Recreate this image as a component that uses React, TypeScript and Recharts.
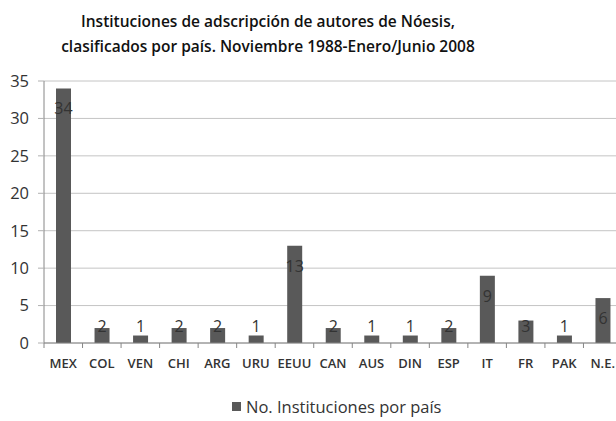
import React from "react";
import { Bar, BarChart, CartesianGrid, LabelList, Legend, XAxis, YAxis } from "recharts";

const paises: string[] = ["MEX", "COL", "VEN", "CHI", "ARG", "URU", "EEUU", "CAN", "AUS", "DIN", "ESP", "IT", "FR", "PAK", "N.E."];
const instituciones: number[] = [34, 2, 1, 2, 2, 1, 13, 2, 1, 1, 2, 9, 3, 1, 6];
const yTicks: number[] = [0, 5, 10, 15, 20, 25, 30, 35];

const data = paises.map((pais, i) => ({ pais, valor: instituciones[i] }));

const FONT = "'Open Sans', sans-serif";
const CHART_W = 622;
const Y_AXIS_W = 44;
const BAND = (CHART_W - Y_AXIS_W) / paises.length;

function PaisTick(props: any) {
  const { x, y, payload } = props;
  return (
    <g>
      <line x1={x - BAND / 2} y1={y} x2={x - BAND / 2} y2={y + 5} stroke="#868686" />
      <text x={x} y={y + 25} textAnchor="middle" fontSize={13} fontWeight={600} fill="#333" fontFamily={FONT}>
        {payload.value}
      </text>
    </g>
  );
}

function ValorLabel(props: any) {
  const { x, y, width, value } = props;
  const cy = Math.min(y + 20, 326);
  return (
    <text x={x + width / 2} y={cy} textAnchor="middle" dominantBaseline="central" fontSize={16} fill="#333" fontFamily={FONT}>
      {value}
    </text>
  );
}

function Leyenda() {
  return (
    <div style={{ display: "flex", alignItems: "center", fontFamily: FONT, fontSize: 16.5, color: "#333", whiteSpace: "nowrap" }}>
      <span style={{ width: 9, height: 9, background: "#595959", display: "inline-block", marginRight: 5 }} />
      No. Instituciones por país
    </div>
  );
}

export default function App() {
  return (
    <div style={{ position: "fixed", left: 0, top: 0, width: 616, height: 421, overflow: "hidden", background: "#fff" }}>
      <div
        style={{
          position: "absolute",
          left: 0,
          top: 9,
          width: 536,
          textAlign: "center",
          fontFamily: FONT,
          fontWeight: 600,
          fontSize: 15.5,
          lineHeight: "25px",
          color: "#111",
          whiteSpace: "nowrap",
        }}
      >
        Instituciones de adscripción de autores de Nóesis,
        <br />
        clasificados por país. Noviembre 1988-Enero/Junio 2008
      </div>
      <BarChart width={CHART_W} height={421} data={data} margin={{ top: 81, right: 0, left: 0, bottom: 25 }} barSize={15}>
        <CartesianGrid vertical={false} stroke="#c4c4c4" />
        <XAxis
          dataKey="pais"
          interval={0}
          height={30}
          tickSize={0}
          tickMargin={0}
          tick={<PaisTick />}
          stroke="#868686"
        />
        <YAxis
          width={Y_AXIS_W}
          domain={[0, 35]}
          ticks={yTicks}
          tickSize={6}
          tickMargin={9}
          stroke="#868686"
          tickLine={{ stroke: "#b0b0b0" }}
          tick={{ fontSize: 16.5, fill: "#333", fontFamily: FONT }}
        />
        <Legend
          verticalAlign="bottom"
          content={<Leyenda />}
          wrapperStyle={{ left: 232, top: 395, bottom: "auto", width: "auto" }}
        />
        <Bar dataKey="valor" fill="#595959" isAnimationActive={false}>
          <LabelList dataKey="valor" content={<ValorLabel />} />
        </Bar>
      </BarChart>
    </div>
  );
}
